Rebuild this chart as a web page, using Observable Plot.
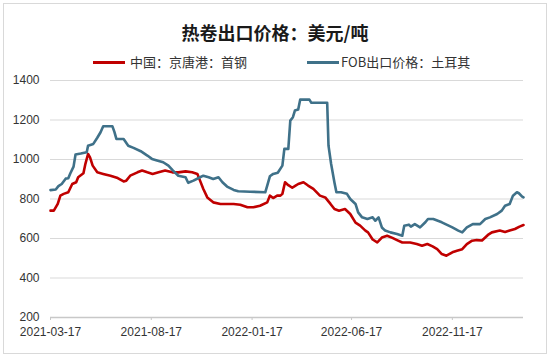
<!DOCTYPE html>
<html><head><meta charset="utf-8">
<script src="https://cdn.jsdelivr.net/npm/d3@7"></script>
<script src="https://cdn.jsdelivr.net/npm/@observablehq/plot@0.6"></script>
<style>
body{margin:0;background:#fff;width:550px;height:358px;position:relative;overflow:hidden;font-family:"Noto Sans CJK SC",sans-serif;}
#frame{position:absolute;left:3px;top:3px;width:542px;height:349px;border:1px solid #d9d9d9;box-sizing:content-box;}
#title{position:absolute;left:0;width:550px;top:19px;text-align:center;font-size:18px;font-weight:bold;color:#1a1a1a;line-height:26px;}
.leg{position:absolute;top:54px;font-size:13px;color:#333;line-height:16px;white-space:nowrap;}
.sw{position:absolute;height:3px;top:61px;width:32px;}
#chart{position:absolute;left:0;top:72px;}
</style></head><body>
<div id="frame"></div>
<div id="title"></div>
<div class="sw" id="sw1" style="left:93px"></div><div class="leg" id="lg1" style="left:130px"></div>
<div class="sw" id="sw2" style="left:307px"></div><div class="leg" id="lg2" style="left:341px"></div>
<div id="chart"></div>
<script>
const titleText = "热卷出口价格：美元/吨";
const seriesNames = ["中国：京唐港：首钢", "FOB出口价格：土耳其"];
const seriesColors = ["#C00000", "#3F7189"];

const chinaDates = ["2021-03-17","2021-03-22","2021-03-28","2021-04-01","2021-04-06","2021-04-13","2021-04-19","2021-04-25","2021-04-28","2021-05-06","2021-05-09","2021-05-13","2021-05-16","2021-05-20","2021-05-27","2021-06-05","2021-06-16","2021-06-27","2021-07-06","2021-07-10","2021-07-16","2021-07-27","2021-08-03","2021-08-11","2021-08-19","2021-08-28","2021-09-07","2021-09-18","2021-09-27","2021-10-08","2021-10-18","2021-10-26","2021-10-30","2021-11-04","2021-11-10","2021-11-19","2021-11-30","2021-12-20","2021-12-30","2022-01-10","2022-01-19","2022-01-29","2022-02-09","2022-02-13","2022-02-18","2022-02-24","2022-03-01","2022-03-04","2022-03-08","2022-03-13","2022-03-19","2022-03-24","2022-03-28","2022-04-05","2022-04-12","2022-04-20","2022-04-30","2022-05-08","2022-05-16","2022-05-22","2022-05-29","2022-06-07","2022-06-15","2022-06-23","2022-06-30","2022-07-08","2022-07-12","2022-07-19","2022-07-26","2022-08-02","2022-08-10","2022-08-18","2022-08-25","2022-09-02","2022-09-14","2022-09-24","2022-10-02","2022-10-10","2022-10-18","2022-10-25","2022-11-01","2022-11-08","2022-11-17","2022-11-24","2022-12-02","2022-12-09","2022-12-17","2022-12-24","2023-01-01","2023-01-10","2023-01-16","2023-01-28","2023-02-05","2023-02-12","2023-02-20","2023-02-27","2023-03-05"];
const chinaValues = [741,741,775,817,826,834,876,885,910,930,978,1028,1011,969,935,927,918,906,889,893,918,935,944,935,927,935,944,935,935,940,935,927,893,851,808,783,775,775,771,758,758,766,783,817,805,817,817,826,885,870,857,868,876,885,868,851,817,808,775,749,741,749,724,680,665,640,631,595,580,605,614,603,592,580,580,572,563,572,560,546,521,513,530,538,546,572,589,592,590,618,631,640,633,640,648,660,668];

const turkeyDates = ["2021-03-17","2021-03-25","2021-03-29","2021-04-03","2021-04-09","2021-04-13","2021-04-16","2021-04-21","2021-04-24","2021-05-02","2021-05-11","2021-05-13","2021-05-21","2021-05-27","2021-06-01","2021-06-05","2021-06-19","2021-06-22","2021-06-25","2021-07-06","2021-07-13","2021-07-21","2021-08-01","2021-08-11","2021-08-18","2021-08-27","2021-09-04","2021-09-12","2021-09-19","2021-09-27","2021-10-08","2021-10-12","2021-10-20","2021-10-30","2021-11-04","2021-11-12","2021-11-19","2021-11-27","2021-12-03","2021-12-10","2021-12-20","2021-12-27","2022-01-14","2022-02-06","2022-02-09","2022-02-13","2022-02-18","2022-02-25","2022-03-04","2022-03-07","2022-03-13","2022-03-16","2022-03-20","2022-03-23","2022-03-28","2022-03-31","2022-04-14","2022-04-17","2022-05-11","2022-05-13","2022-05-17","2022-05-22","2022-05-25","2022-06-01","2022-06-10","2022-06-15","2022-06-23","2022-06-27","2022-07-03","2022-07-11","2022-07-19","2022-07-23","2022-07-28","2022-08-02","2022-08-07","2022-08-15","2022-08-25","2022-09-02","2022-09-05","2022-09-12","2022-09-15","2022-09-21","2022-09-29","2022-10-07","2022-10-11","2022-10-19","2022-11-01","2022-11-17","2022-11-26","2022-12-02","2022-12-09","2022-12-18","2022-12-29","2023-01-06","2023-01-13","2023-01-24","2023-01-31","2023-02-05","2023-02-12","2023-02-17","2023-02-23","2023-02-26","2023-03-03","2023-03-05"];
const turkeyValues = [845,848,865,876,903,905,929,964,1025,1030,1037,1070,1079,1110,1138,1168,1168,1140,1104,1104,1070,1059,1042,1020,1003,994,986,969,944,918,910,882,893,910,918,910,901,910,885,863,846,839,837,834,868,915,927,933,969,1054,1054,1197,1214,1248,1253,1303,1303,1287,1287,1070,977,884,834,834,826,800,775,732,707,699,707,690,707,656,640,631,623,614,665,670,660,673,656,682,699,699,682,656,640,631,656,673,673,699,707,724,741,766,775,817,834,829,812,808];

const xTickDates = ["2021-03-17","2021-08-17","2022-01-17","2022-06-17","2022-11-17"];
const yTicks = [200,400,600,800,1000,1200,1400];

document.getElementById("title").textContent = titleText;
document.getElementById("lg1").textContent = seriesNames[0];
document.getElementById("lg2").textContent = seriesNames[1];
document.getElementById("sw1").style.background = seriesColors[0];
document.getElementById("sw2").style.background = seriesColors[1];

const china = chinaDates.map((d,i)=>({date:new Date(d), value:chinaValues[i]}));
const turkey = turkeyDates.map((d,i)=>({date:new Date(d), value:turkeyValues[i]}));
const fmt = d3.utcFormat("%Y-%m-%d");

const chart = Plot.plot({
  width:550, height:286,
  marginTop:8, marginBottom:41, marginLeft:50, marginRight:27,
  style:{fontSize:"12px", fontFamily:"'Liberation Sans', Arial, sans-serif", color:"#333", background:"transparent"},
  x:{type:"utc", domain:[new Date("2021-03-17"), new Date("2023-03-05")]},
  y:{domain:[200,1400]},
  marks:[
    Plot.gridY(yTicks, {stroke:"#d9d9d9", strokeOpacity:1}),
    Plot.ruleY([200], {stroke:"#c8c8c8", strokeWidth:1.5}),
    Plot.axisY({ticks:yTicks, tickFormat:d=>String(d), tickSize:0, tickPadding:11, label:null, fill:"#333"}),
    Plot.axisX({ticks:xTickDates.map(d=>new Date(d)), tickFormat:fmt, tickSize:3, tickPadding:7, label:null, stroke:"#c8c8c8", fill:"#333"}),
    Plot.lineY(china, {x:"date", y:"value", stroke:seriesColors[0], strokeWidth:2.6, curve:"linear"}),
    Plot.lineY(turkey, {x:"date", y:"value", stroke:seriesColors[1], strokeWidth:2.6, curve:"linear"})
  ]
});
document.getElementById("chart").appendChild(chart);
</script>
</body></html>
